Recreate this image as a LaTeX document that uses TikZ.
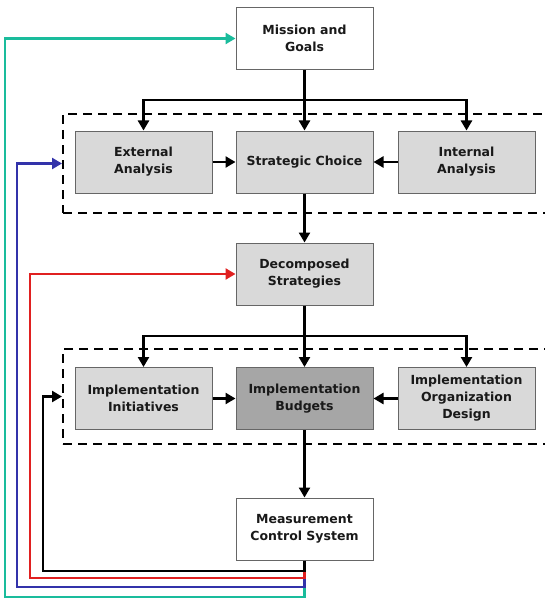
\documentclass[tikz,border=0pt]{standalone}
\usepackage{fontspec}
\setmainfont{DejaVu Sans}
\usetikzlibrary{arrows.meta}
\definecolor{boxfill}{HTML}{D9D9D9}
\definecolor{boxdark}{HTML}{A6A6A6}
\definecolor{boxline}{HTML}{666666}
\definecolor{fbteal}{HTML}{1ABC9C}
\definecolor{fbblue}{HTML}{3333AA}
\definecolor{fbred}{HTML}{E02020}
\begin{document}
\begin{tikzpicture}[x=1pt,y=-1pt,
  box/.style={draw=boxline,line width=1pt,minimum width=137pt,minimum height=62pt,
    align=center,font=\fontsize{12.5}{17}\selectfont\bfseries,text=black!90,inner sep=2pt},
  grp/.style={draw=black,line width=2pt,dash pattern=on 9pt off 6pt,anchor=north west,minimum width=490pt,inner sep=0pt},
  arr/.style={line width=2.4pt,-{Triangle[length=10pt,width=11pt]}},
  fb/.style={line width=2.4pt,-{Triangle[length=10pt,width=11pt]}}]
\useasboundingbox (0,0) rectangle (544,599);
\node[grp,minimum height=99pt] (grp1) at (62,113) {};
\node[grp,minimum height=95pt] (grp2) at (62,348) {};
\node[box,fill=white] (mission) at (304.5,38.5) {Mission and\\Goals};
\node[box,fill=boxfill] (ext) at (143.5,162) {External\\Analysis};
\node[box,fill=boxfill] (strat) at (304.5,162) {Strategic Choice};
\node[box,fill=boxfill] (int) at (466.5,162) {Internal\\Analysis};
\node[box,fill=boxfill] (decomp) at (304.5,274) {Decomposed\\Strategies};
\node[box,fill=boxfill] (init) at (143.5,398.5) {Implementation\\Initiatives};
\node[box,fill=boxdark] (budg) at (304.5,398.5) {Implementation\\Budgets};
\node[box,fill=boxfill] (org) at (466.5,398.5) {Implementation\\Organization\\Design};
\node[box,fill=white] (meas) at (304.5,529) {Measurement\\Control System};
% top branch
\coordinate (j1) at (304.5,100);
\draw[arr] (mission.south) -- (strat.north);
\draw[arr] (j1) -| (ext.north);
\draw[arr] (j1) -| (int.north);
\draw[arr] (ext.east) -- (strat.west);
\draw[arr] (int.west) -- (strat.east);
\draw[arr] (strat.south) -- (decomp.north);
% second branch
\coordinate (j2) at (304.5,336);
\draw[arr] (decomp.south) -- (budg.north);
\draw[arr] (j2) -| (init.north);
\draw[arr] (j2) -| (org.north);
\draw[arr] (init.east) -- (budg.west);
\draw[arr] (org.west) -- (budg.east);
\draw[arr] (budg.south) -- (meas.north);
% feedback loops
\coordinate (ct) at (5,597);
\coordinate (cb) at (17,587);
\coordinate (cr) at (30,578);
\coordinate (ck) at (43,571);
\draw[fb,fbteal] (meas.south) |- (ct) |- (mission.west);
\draw[fb,fbblue] (meas.south) |- (cb) |- (grp1.west);
\draw[fb,fbred] (meas.south) |- (cr) |- (decomp.west);
\draw[fb,black] (meas.south) |- (ck) |- (grp2.west);
\end{tikzpicture}
\end{document}
